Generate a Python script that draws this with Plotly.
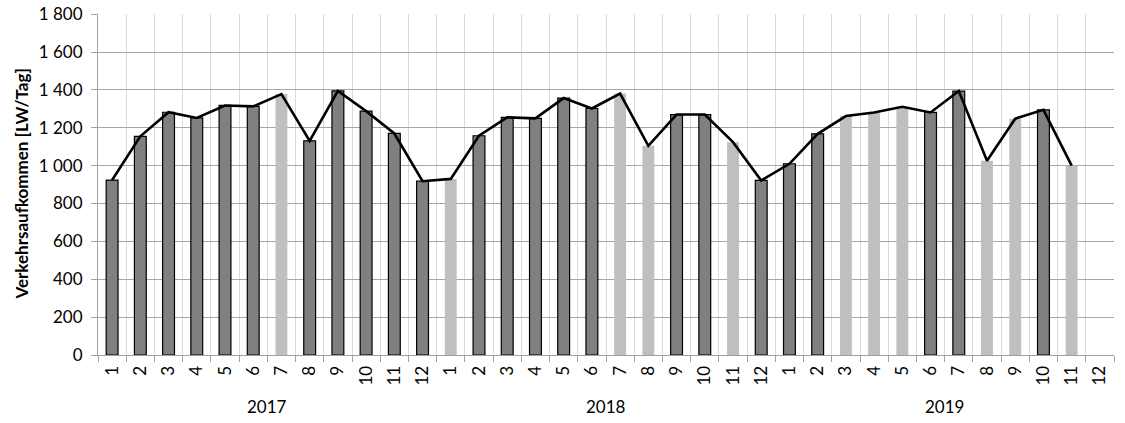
import plotly.graph_objects as go

years = ["2017", "2018", "2019"]
months = [str(m) for m in range(1, 13)]

# Verkehrsaufkommen je Monat [LW/Tag], Jan 2017 .. Dez 2019 (None = kein Wert)
values = [
    924, 1155, 1282, 1252, 1318, 1313, 1378, 1131, 1395, 1288, 1170, 918,
    930, 1158, 1255, 1250, 1357, 1302, 1381, 1105, 1270, 1270, 1124, 922,
    1010, 1168, 1262, 1281, 1311, 1281, 1394, 1026, 1248, 1295, 1000, None,
]
# True = dunkler Balken, False = heller Balken
dark = [
    True, True, True, True, True, True, False, True, True, True, True, True,
    False, True, True, True, True, True, False, False, True, True, False, True,
    True, True, False, False, False, True, True, False, False, True, False, False,
]
y_title = "Verkehrsaufkommen [LW/Tag]"

n = len(values)
xs = list(range(n))
dark_vals = [v if (d and v is not None) else None for v, d in zip(values, dark)]
light_vals = [v if (not d and v is not None) else None for v, d in zip(values, dark)]
line_vals = list(values)

FONT = "Lato"

fig = go.Figure()
fig.add_trace(go.Bar(x=xs, y=dark_vals, width=0.42,
                     marker=dict(color="#808080", line=dict(color="#000000", width=1.2)),
                     showlegend=False))
fig.add_trace(go.Bar(x=xs, y=light_vals, width=0.42,
                     marker=dict(color="#bfbfbf", line=dict(width=0)),
                     showlegend=False))
fig.add_trace(go.Scatter(x=xs, y=line_vals, mode="lines",
                         line=dict(color="#000000", width=2.6),
                         connectgaps=False, showlegend=False))

fig.update_layout(
    width=1125, height=423,
    margin=dict(l=98, r=11, t=14, b=68, autoexpand=False),
    plot_bgcolor="white", paper_bgcolor="white",
    separators=", ",
    barmode="overlay",
    font=dict(family=FONT, size=17, color="#000000"),
)
fig.update_xaxes(
    automargin=False,
    range=[-0.5, n - 0.5],
    tickmode="array", tickvals=xs, ticktext=[months[i % 12] for i in xs],
    tickangle=-90, ticks="", showgrid=False, ticklabelstandoff=3,
    tickfont=dict(family=FONT, size=17),
    showline=True, linecolor="#a0a0a0", linewidth=1,
    minor=dict(tick0=-0.5, dtick=1, ticks="outside", ticklen=6,
               tickcolor="#a0a0a0", showgrid=True, gridcolor="#d9d9d9", gridwidth=1),
    zeroline=False,
)
fig.update_yaxes(
    automargin=False,
    range=[0, 1801], dtick=200,
    tickformat=",d", ticklabeloverflow="allow",
    showgrid=True, gridcolor="#a6a6a6", gridwidth=1,
    showline=True, linecolor="#a0a0a0", linewidth=1,
    ticks="outside", ticklen=6, tickcolor="#a0a0a0", ticklabelstandoff=5,
    tickfont=dict(family=FONT, size=17),
    zeroline=False,
)
fig.add_annotation(x=0, y=0.5, xref="paper", yref="paper", xshift=-77,
                   xanchor="center", yanchor="middle",
                   text="<b>" + y_title + "</b>", textangle=-90, showarrow=False,
                   font=dict(family=FONT, size=17, color="#000000"))
for k, yr in enumerate(years):
    fig.add_annotation(x=k * 12 + 5.5, y=0, xref="x", yref="paper",
                       yshift=-64, text=yr, showarrow=False,
                       font=dict(family=FONT, size=17, color="#000000"))

# remove the default page margin so the figure starts at the window corner
fig.write_html("out.html", config={"displayModeBar": False},
               post_script="document.body.style.margin='0px';")
